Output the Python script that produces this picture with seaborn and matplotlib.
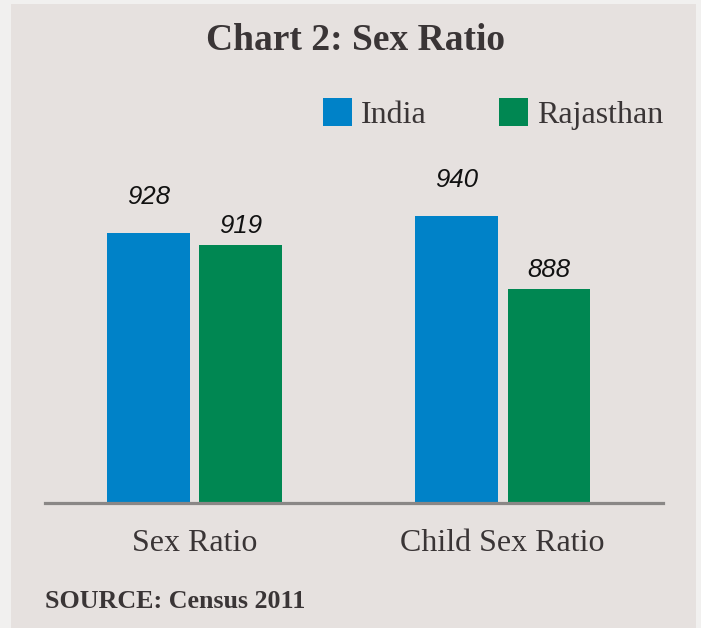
import matplotlib
matplotlib.use("Agg")
import matplotlib.pyplot as plt
from matplotlib.patches import Rectangle, Patch
import seaborn as sns
import pandas as pd

categories = ["Sex Ratio", "Child Sex Ratio"]
series = ["India", "Rajasthan"]
india_values = [928, 940]
rajasthan_values = [919, 888]
title = "Chart 2: Sex Ratio"
source_text = "SOURCE: Census 2011"

colors = {"India": "#0082c8", "Rajasthan": "#008752"}
text_color = "#3a3536"
panel_color = "#e6e1df"
outer_color = "#f1f0ef"

df = pd.DataFrame({
    "category": categories * 2,
    "series": [series[0]] * len(categories) + [series[1]] * len(categories),
    "value": india_values + rajasthan_values,
})

sns.set_style("white")
plt.rcParams["font.family"] = ["Liberation Serif", "DejaVu Serif"]

W, H = 701, 628
fig = plt.figure(figsize=(W / 100, H / 100), dpi=100, facecolor=outer_color)
fig.patches.append(Rectangle((11 / W, 0), (696 - 11) / W, 1 - 4 / H,
                             transform=fig.transFigure, facecolor=panel_color,
                             edgecolor="none", zorder=-10))

ax_left, ax_right = 45, 663
ax_bottom, ax_top = 503, 150
ax = fig.add_axes([ax_left / W, 1 - ax_bottom / H, (ax_right - ax_left) / W, (ax_bottom - ax_top) / H])
ax.set_facecolor("none")
ax.set_zorder(5)

sns.barplot(data=df, x="category", y="value", hue="series", order=categories,
            hue_order=series, palette=colors, width=0.6, gap=0.108,
            saturation=1, legend=False, ax=ax, linewidth=0)

ax.set_ylim(735, 987)
ax.set_xlim(-0.4854, 1.521)

for side in ["top", "right", "left"]:
    ax.spines[side].set_visible(False)
ax.spines["bottom"].set_color("#8a8786")
ax.spines["bottom"].set_linewidth(2.3)
ax.set_yticks([])
ax.set_xlabel("")
ax.set_ylabel("")
ax.tick_params(axis="x", length=0, pad=19, labelsize=23, labelcolor=text_color)

label_font = dict(family=["Liberation Sans Narrow", "Liberation Sans", "DejaVu Sans"],
                  style="italic", size=18.5, color="#111111")
pads = [17, 5]
for cont, pad in zip(ax.containers, pads):
    ax.bar_label(cont, labels=[f"{int(v)}" for v in cont.datavalues], padding=pad, **label_font)

handles = [Patch(facecolor=colors[s], edgecolor="none") for s in series]
fig.legend(handles, series, loc="center left", bbox_to_anchor=(323 / W, 1 - 114 / H),
           ncol=2, frameon=False, fontsize=23, handlelength=0.92, handleheight=0.95,
           handletextpad=0.27, columnspacing=2.25, borderpad=0, borderaxespad=0,
           labelcolor=text_color)

fig.text(355 / W, 1 - 40 / H, title, ha="center", va="center", fontsize=27,
         fontweight="bold", color=text_color)
fig.text(45 / W, 1 - 601 / H, source_text, ha="left", va="center", fontsize=18.7,
         fontweight="bold", color=text_color)

fig.savefig("out.png", dpi=100, facecolor=fig.get_facecolor())
